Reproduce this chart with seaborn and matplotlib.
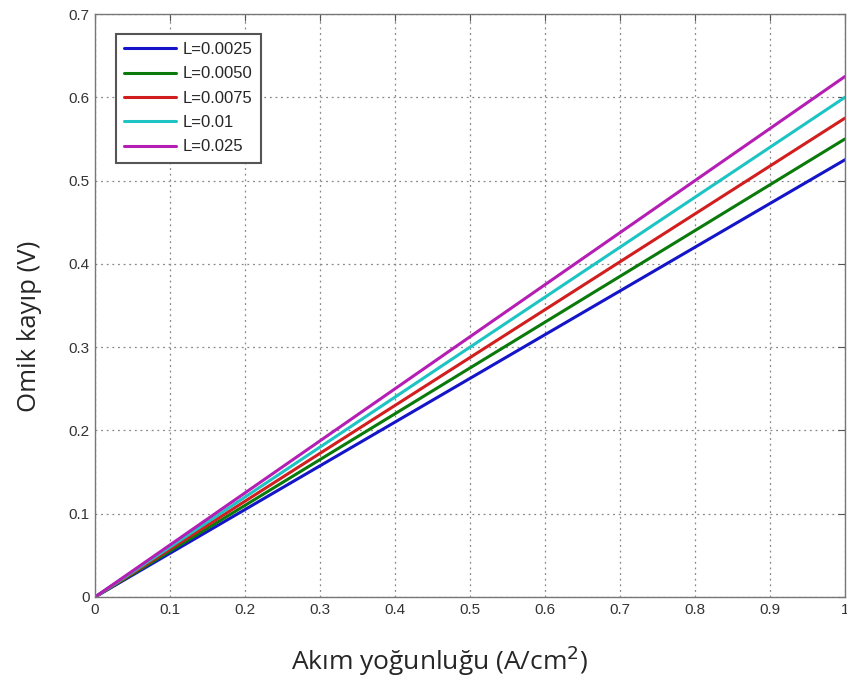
import numpy as np
import pandas as pd
import matplotlib
matplotlib.use("Agg")
import matplotlib.pyplot as plt
import seaborn as sns

# Data
current = [0.0, 1.0]
labels = ["L=0.0025", "L=0.0050", "L=0.0075", "L=0.01", "L=0.025"]
v_00025 = [0.0, 0.525]
v_00050 = [0.0, 0.550]
v_00075 = [0.0, 0.575]
v_0010 = [0.0, 0.600]
v_0025 = [0.0, 0.625]
series = [v_00025, v_00050, v_00075, v_0010, v_0025]
colors = ["#1414c8", "#0a7a0a", "#d21e1e", "#1ec3c3", "#b41eb4"]
xticks = [0, 0.1, 0.2, 0.3, 0.4, 0.5, 0.6, 0.7, 0.8, 0.9, 1]
xticklabels = ["0", "0.1", "0.2", "0.3", "0.4", "0.5", "0.6", "0.7", "0.8", "0.9", "1"]
yticks = [0, 0.1, 0.2, 0.3, 0.4, 0.5, 0.6, 0.7]
yticklabels = ["0", "0.1", "0.2", "0.3", "0.4", "0.5", "0.6", "0.7"]

rows = []
for lab, vals in zip(labels, series):
    for x, y in zip(current, vals):
        rows.append({"x": x, "y": y, "L": lab})
df = pd.DataFrame(rows)

sns.set_style("white")
plt.rcParams["font.family"] = ["Liberation Sans", "DejaVu Sans"]

fig = plt.figure(figsize=(8.47, 6.82), dpi=100)
ax = fig.add_axes([95 / 847, 1 - 597 / 682, (845 - 95) / 847, (597 - 14) / 682])

sns.lineplot(data=df, x="x", y="y", hue="L", hue_order=labels,
             palette=colors, linewidth=2.2, ax=ax)

ax.set_xlim(0, 1)
ax.set_ylim(0, 0.7)
ax.set_xticks(xticks)
ax.set_xticklabels(xticklabels)
ax.set_yticks(yticks)
ax.set_yticklabels(yticklabels)
ax.tick_params(direction="in", top=True, right=True, length=5, width=0.8,
               labelsize=11, labelcolor="#333333", color="#555555", pad=4)
ax.grid(True, linestyle=(0, (1.5, 3)), color="#888888", linewidth=0.9)
for s in ax.spines.values():
    s.set_color("#777777")
    s.set_linewidth(1.0)

ax.set_xlabel("Akım yoğunluğu (A/cm$^2$)", fontsize=19, family=["Open Sans", "DejaVu Sans"])
ax.xaxis.set_label_coords(0.46, -0.08)
ax.set_ylabel("Omik kayıp (V)", fontsize=18.5, family=["Open Sans", "DejaVu Sans"])
ax.yaxis.set_label_coords(-0.071, 0.465)

leg = ax.legend(loc="upper left", bbox_to_anchor=(0.028, 0.966), borderaxespad=0,
                fontsize=12, handlelength=3.1, handletextpad=0.4, borderpad=0.5,
                labelspacing=0.56, fancybox=False, framealpha=1)
leg.get_frame().set_edgecolor("#555555")
leg.get_frame().set_linewidth(1.5)

fig.savefig("out.png", dpi=100)
